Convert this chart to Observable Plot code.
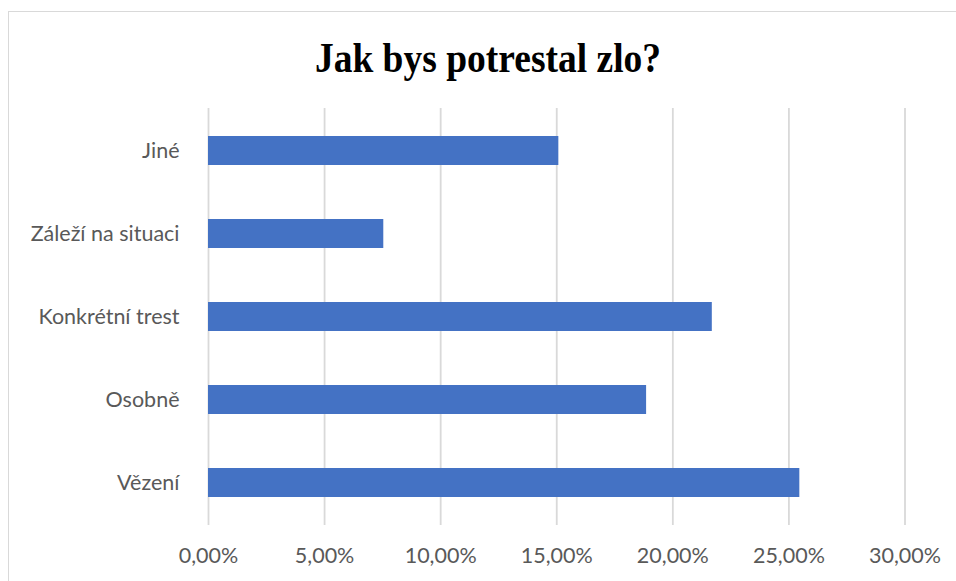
<!DOCTYPE html>
<html>
<head>
<meta charset="utf-8">
<script src="https://cdn.jsdelivr.net/npm/d3@7"></script>
<script src="https://cdn.jsdelivr.net/npm/@observablehq/plot@0.6"></script>
<style>
  body { margin: 0; background: #fff; }
  #wrap { position: relative; width: 956px; height: 581px; overflow: hidden; }
  #frame { position: absolute; left: 8px; top: 11px; width: 1100px; height: 800px;
           border: 1.5px solid #d9d9d9; box-sizing: border-box; pointer-events: none; }
  #header { position: relative; height: 90px; }
  #title { position: absolute; left: 0; width: 976px; top: 40.6px; margin: 0;
           text-align: center; font-family: "Liberation Serif", "Times New Roman", serif;
           font-weight: bold; font-size: 37.5px; line-height: 37.5px; color: #000;
           transform: scaleY(1.15); transform-origin: 50% 31.4px; }
  #chart { position: relative; }
</style>
</head>
<body>
<div id="wrap">
  <div id="frame"></div>
  <div id="header"><h1 id="title">Jak bys potrestal zlo?</h1></div>
  <div id="chart"></div>
</div>
<script>
const categories = ["Jiné", "Záleží na situaci", "Konkrétní trest", "Osobně", "Vězení"];
const values = [0.1509, 0.0755, 0.2170, 0.1887, 0.2547];
const xTicks = [0, 0.05, 0.10, 0.15, 0.20, 0.25, 0.30];

const data = categories.map((c, i) => ({category: c, value: values[i]}));
const fmt = d3.formatLocale({decimal: ",", thousands: " ", grouping: [3], currency: ["", ""]}).format(".2%");

const chart = Plot.plot({
  width: 956,
  height: 491,
  marginTop: 18,
  marginBottom: 56,
  marginLeft: 208,
  marginRight: 51.5,
  style: {fontFamily: "Lato, 'Open Sans', sans-serif", fontSize: "21.5px", color: "#595959", background: "transparent", overflow: "visible"},
  x: {domain: [0, 0.30], ticks: xTicks, tickFormat: fmt, label: null},
  y: {domain: categories, paddingInner: 0.65, paddingOuter: 0.325, label: null},
  marks: [
    Plot.ruleX(xTicks, {stroke: "#d9d9d9", strokeWidth: 1.8}),
    Plot.barX(data, {x: "value", y: "category", fill: "#4472C4"}),
    Plot.axisX({ticks: xTicks, tickFormat: fmt, tickSize: 0, tickPadding: 22, label: null, fontSize: 21.5}),
    Plot.axisY({tickSize: 0, tickPadding: 29, label: null, fontSize: 21.5})
  ]
});
document.getElementById("chart").appendChild(chart);
</script>
</body>
</html>
